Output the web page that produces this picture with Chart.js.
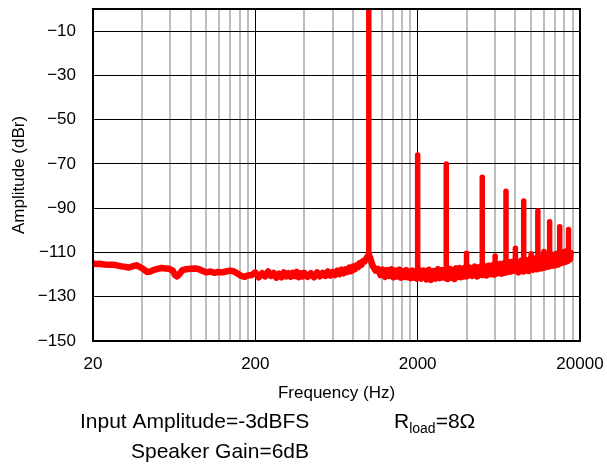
<!DOCTYPE html>
<html>
<head>
<meta charset="utf-8">
<script src="https://cdn.jsdelivr.net/npm/chart.js@4"></script>
<style>
  html, body { margin: 0; padding: 0; background: #fff; }
  #wrap { width: 607px; height: 464px; position: relative; }
</style>
</head>
<body>
<div id="wrap"><canvas id="fft"></canvas></div>
<script>
// noise floor (Hz / dBr)
const floorHz = [
  20, 21, 22, 23.5, 25, 26.5, 28, 29.5, 31, 33, 35, 37, 39, 41, 43, 45, 47, 50, 53, 56,
  59, 62, 64, 66, 68, 71, 75, 80, 85, 90, 95, 100, 106, 112, 118, 125, 132, 140, 148, 156,
  164, 172, 180, 190,
  200, 210, 220, 230, 240, 250, 260, 270, 280, 290, 300, 310, 320, 330, 340, 350, 360, 370, 380, 390,
  400, 420, 440, 460, 480, 500, 520, 540, 560, 580, 600, 620, 640, 660, 680, 700, 720, 740, 760, 780,
  800, 820, 840, 860, 880, 900, 920, 940, 960, 980,
  1000, 1020, 1040, 1060, 1080, 1100,
  1140, 1180, 1220, 1260, 1300, 1340, 1380, 1420, 1460, 1500, 1540, 1580, 1620, 1660, 1700, 1740,
  1780, 1820, 1860, 1900, 1940, 1980,
  2020, 2100, 2180, 2260, 2340, 2420, 2500, 2580, 2660, 2740, 2820, 2900, 2980, 3060, 3140, 3220,
  3300, 3380, 3460, 3540, 3620, 3700, 3780, 3860, 3940,
  4020, 4180, 4340, 4500, 4660, 4820, 4980, 5140, 5300, 5460, 5620, 5780, 5940, 6100, 6260, 6420,
  6580, 6740, 6900, 7060, 7220, 7380, 7540, 7700, 7860,
  8020, 8340, 8660, 8980, 9300, 9620, 9940, 10260, 10580, 10900, 11220, 11540, 11860, 12180, 12500,
  12820, 13140, 13460, 13780, 14100, 14420, 14740, 15060, 15380, 15700, 16020, 16340, 16660, 16980,
  17300, 17500
];
const floorDb = [
  -115.0, -115.2, -115.1, -115.4, -115.6, -115.5, -115.8, -116.2, -116.4, -116.8,
  -116.3, -115.8, -116.6, -117.6, -118.8, -118.6, -118.0, -117.4, -117.0, -117.2,
  -117.4, -118.2, -120.2, -120.8, -119.8, -118.0, -117.6, -117.4, -117.2, -117.6,
  -118.4, -119.0, -118.6, -119.2, -118.8, -119.0, -118.6, -118.2, -118.6, -119.6,
  -120.6, -121.0, -120.4, -120.2,
  -119.0, -121.2, -119.4, -120.8, -118.6, -120.6, -119.2, -121.4, -119.6, -121.2,
  -119.0, -120.8, -119.4, -121.0, -119.2, -120.6, -118.8, -121.2, -119.4, -120.8,
  -119.2, -121.0, -119.4, -121.2, -119.0, -120.8, -119.2, -120.6, -118.6, -120.4,
  -118.8, -120.2, -118.2, -119.8, -117.8, -119.4, -117.6, -118.8, -116.8, -118.4,
  -116.4, -117.6, -115.8, -116.6, -114.8, -115.6, -114.0, -114.2, -113.0, -112.0,
  -111.0, -112.4, -114.6, -116.2, -117.0, -118.2,
  -117.4, -120.2, -117.8, -121.0, -118.0, -120.6, -117.6, -121.2, -118.2, -120.8,
  -117.8, -121.4, -118.4, -121.0, -118.0, -121.2, -118.6, -121.6, -118.2, -121.4,
  -118.8, -121.8,
  -117.6, -121.8, -118.2, -122.2, -117.8, -122.4, -118.4, -121.8, -117.6, -121.6,
  -118.0, -121.4, -117.8, -122.0, -117.4, -121.4, -117.8, -122.0, -117.2, -121.0,
  -117.0, -121.2, -117.4, -120.8, -116.8,
  -120.8, -116.8, -120.6, -116.4, -120.8, -116.6, -120.2, -116.2, -120.4, -116.0,
  -119.8, -115.8, -120.0, -115.4, -119.4, -115.2, -119.6, -115.0, -119.2, -114.8,
  -118.8, -114.4, -118.6, -114.2, -118.2,
  -114.2, -119.0, -113.8, -118.6, -113.4, -118.4, -112.6, -117.8, -112.8, -117.6,
  -112.4, -117.2, -111.6, -116.8, -111.8, -116.4, -111.4, -116.0, -111.0, -115.8,
  -110.6, -115.4, -110.4, -114.8, -110.0, -114.4, -109.6, -114.0, -109.4, -113.2,
  -110.2
];

// fundamental + harmonics: frequency, foot of the spike, tip of the spike
const harmonicHz     = [1000, 2000, 3000, 4000, 5000, 6000, 7000, 8000, 9000, 10000, 11000, 12000, 13000, 15000, 17000];
const harmonicBaseDb = [-112, -120, -120, -119, -118.5, -118, -117.5, -117, -116.5, -116, -115.5, -115, -114.5, -113.5, -112.5];
const harmonicPeakDb = [0, -66, -70, -110.4, -76, -111.6, -82.3, -108.1, -86.7, -110.6, -91.3, -109.6, -96.1, -98.4, -99.6];

const xGridValues = [
  20, 40, 60, 80, 100, 120, 140, 160, 180,
  200, 400, 600, 800, 1000, 1200, 1400, 1600, 1800,
  2000, 4000, 6000, 8000, 10000, 12000, 14000, 16000, 18000, 20000
];
const xLabelValues = [20, 200, 2000, 20000];
const yTickValues = [-150, -130, -110, -90, -70, -50, -30, -10];

const FONT = "'Liberation Sans', Arial, sans-serif";
Chart.defaults.font.family = FONT;
Chart.defaults.color = "#000";

const floorPoints = floorHz.map((f, i) => ({ x: f, y: floorDb[i] }));
const spikePoints = [];
harmonicHz.forEach((f, i) => {
  spikePoints.push({ x: f, y: harmonicBaseDb[i] }, { x: f, y: harmonicPeakDb[i] }, { x: f, y: null });
});

// keep the plot box where the reference has it: no extra label padding
function noPad(s) {
  s.paddingTop = 0;
  s.paddingBottom = 0;
  s.paddingLeft = 0;
  s.paddingRight = 0;
}

// frame round the plot + the notes under the axis
const notesPlugin = {
  id: "notes",
  afterDatasetsDraw(chart) {
    const { ctx, chartArea: a } = chart;
    ctx.save();
    ctx.strokeStyle = "#000";
    ctx.lineWidth = 2;
    ctx.strokeRect(a.left, a.top, a.right - a.left, a.bottom - a.top);
    ctx.restore();
  },
  afterDraw(chart) {
    const ctx = chart.ctx;
    ctx.save();
    ctx.fillStyle = "#000";
    ctx.textBaseline = "alphabetic";
    ctx.textAlign = "left";
    ctx.font = "21px " + FONT;
    ctx.fillText("Input Amplitude=-3dBFS", 80, 428);
    ctx.fillText("Speaker Gain=6dB", 131, 458);
    let x = 394;
    ctx.fillText("R", x, 428);
    x += ctx.measureText("R").width;
    ctx.font = "14px " + FONT;
    ctx.fillText("load", x, 433);
    x += ctx.measureText("load").width;
    ctx.font = "21px " + FONT;
    ctx.fillText("=8\u03A9", x, 428);
    ctx.restore();
  }
};

new Chart(document.getElementById("fft"), {
  type: "line",
  data: {
    datasets: [
      {
        data: floorPoints,
        borderColor: "#ff0000",
        borderWidth: 6.5,
        borderJoinStyle: "round",
        borderCapStyle: "round",
        pointRadius: 0,
        tension: 0,
        clip: 0
      },
      {
        data: spikePoints,
        borderColor: "#ff0000",
        borderWidth: 5.5,
        borderJoinStyle: "round",
        borderCapStyle: "round",
        pointRadius: 0,
        spanGaps: false,
        clip: 0
      }
    ]
  },
  options: {
    responsive: true,
    maintainAspectRatio: false,
    animation: false,
    layout: { padding: { top: 9, right: 27, bottom: 0, left: 0 } },
    plugins: { legend: { display: false }, tooltip: { enabled: false } },
    scales: {
      x: {
        type: "logarithmic",
        min: 20,
        max: 20000,
        afterBuildTicks: s => { s.ticks = xGridValues.map(v => ({ value: v })); },
        afterFit: s => { s.height = 123; noPad(s); },
        border: { display: false },
        grid: {
          drawTicks: false,
          color: c => xLabelValues.includes(c.tick.value) ? "#000" : "#bdbdbd",
          lineWidth: c => xLabelValues.includes(c.tick.value) ? 1 : 2
        },
        ticks: {
          autoSkip: false,
          maxRotation: 0,
          padding: 13,
          font: { size: 17 },
          callback: v => xLabelValues.includes(v) ? String(v) : ""
        },
        title: {
          display: true,
          text: "Frequency (Hz)",
          font: { size: 17 },
          padding: { top: 0, bottom: 60 }
        }
      },
      y: {
        min: -150,
        max: 0,
        afterBuildTicks: s => { s.ticks = yTickValues.map(v => ({ value: v })); },
        afterFit: s => { s.width = 93; noPad(s); },
        border: { display: false },
        grid: { drawTicks: false, color: "#000", lineWidth: 1 },
        ticks: {
          padding: 17,
          font: { size: 17 },
          callback: v => "\u2212" + Math.abs(v)
        },
        title: {
          display: true,
          text: "Amplitude (dBr)",
          font: { size: 17 },
          padding: { top: 9, bottom: 0 }
        }
      }
    }
  },
  plugins: [notesPlugin]
});
</script>
</body>
</html>
